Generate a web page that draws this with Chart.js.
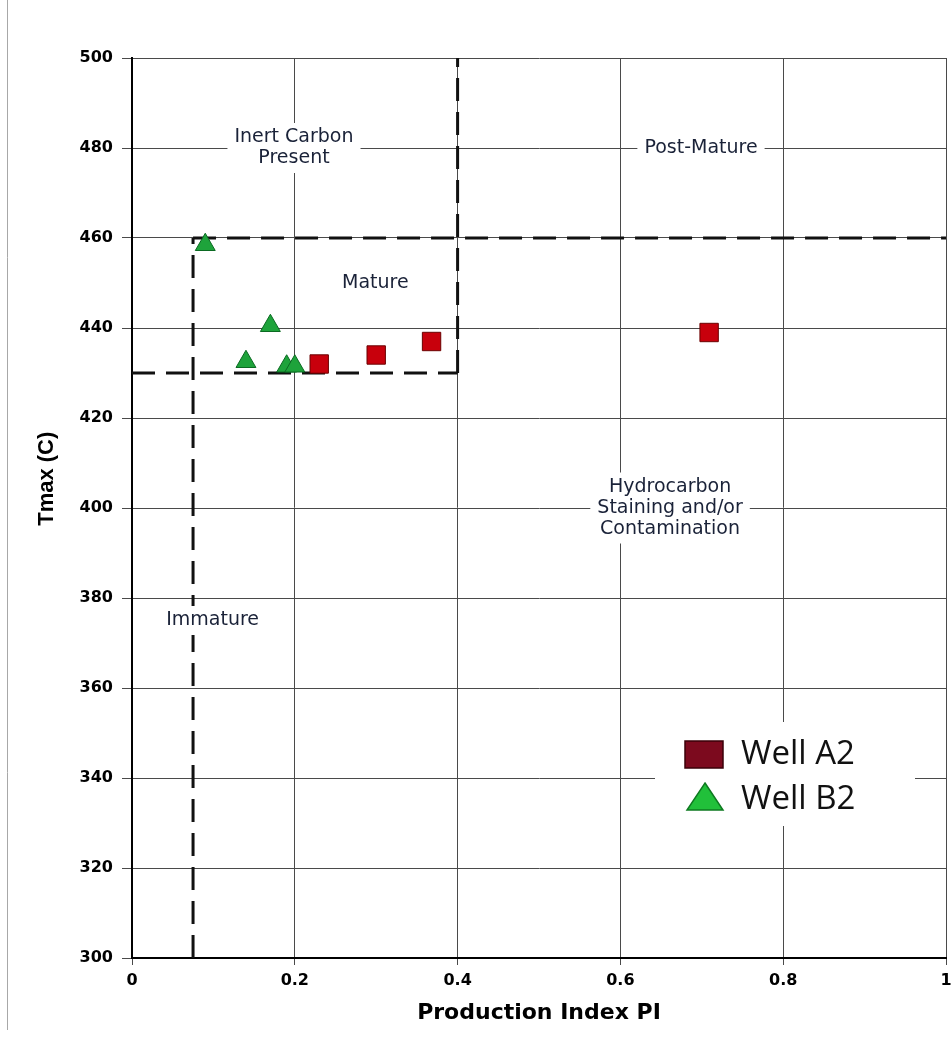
<!DOCTYPE html>
<html>
<head>
<meta charset="utf-8">
<script src="https://cdn.jsdelivr.net/npm/chart.js@4.4.1/dist/chart.umd.min.js"></script>
<style>
html,body{margin:0;padding:0;background:#fff;}
#wrap{width:952px;height:1060px;position:relative;}
canvas{display:block;}
</style>
</head>
<body>
<div id="wrap"><canvas id="c" width="952" height="1060"></canvas></div>
<script>
// ---- tick labels ----
const xTickLabels = ['0', '0.2', '0.4', '0.6', '0.8', '1'];
const yTickLabels = ['300', '320', '340', '360', '380', '400', '420', '440', '460', '480', '500'];

// ---- axis titles ----
const xAxisTitle = 'Production Index PI';
const yAxisTitle = 'Tmax (C)';

// ---- series ----
const seriesNames = ['Well A2', 'Well B2'];
const wellA2PI   = [0.23, 0.30, 0.368, 0.709];
const wellA2Tmax = [432, 434, 437, 439];
const wellB2PI   = [0.09, 0.17, 0.14, 0.19, 0.20];
const wellB2Tmax = [458.5, 440.5, 432.5, 431.5, 431.5];

// ---- zone boundaries (dashed) ----
const immatureLinePI   = [0.075, 0.075];
const immatureLineTmax = [300, 460];
const line460PI   = [0.075, 1];
const line460Tmax = [460, 460];
const line430PI   = [0, 0.4];
const line430Tmax = [430, 430];
const line04PI    = [0.4, 0.4];
const line04Tmax  = [430, 500];

// ---- zone labels ----
const zoneLabels   = ['Inert Carbon\nPresent', 'Post-Mature', 'Mature', 'Hydrocarbon\nStaining and/or\nContamination', 'Immature'];
const zoneLabelPI  = [0.199, 0.699, 0.299, 0.661, 0.099];
const zoneLabelTmax = [480, 480, 450, 400, 375];

const toPts = (xs, ys) => xs.map((x, i) => ({x: x, y: ys[i]}));

const dashStyle = {
  showLine: true, pointRadius: 0, pointHoverRadius: 0, borderColor: '#111',
  borderWidth: 3, borderDash: [23, 11], fill: false, tension: 0, order: 2
};

const A2Style = {fill: '#c8000c', border: '#6a0000'};
const B2Style = {fill: '#1ea33b', border: '#0b6a22'};

const bgPlugin = {
  id: 'bg',
  beforeDraw(chart) {
    const ctx = chart.ctx;
    ctx.save();
    ctx.fillStyle = '#fff';
    ctx.fillRect(0, 0, chart.width, chart.height);
    ctx.strokeStyle = '#a8a8a8';
    ctx.lineWidth = 1;
    ctx.beginPath();
    ctx.moveTo(7.5, 0);
    ctx.lineTo(7.5, 1030);
    ctx.stroke();
    ctx.restore();
  },
  afterDraw(chart) {
    // y axis title, placed as in the reference (slightly above the axis middle)
    const ctx = chart.ctx;
    const ys = chart.scales.y;
    ctx.save();
    ctx.translate(47, ys.getPixelForValue(406.5));
    ctx.rotate(-Math.PI / 2);
    ctx.font = 'bold 22px "Liberation Sans Narrow", "Liberation Sans", Arial, sans-serif';
    ctx.fillStyle = '#000';
    ctx.textAlign = 'center';
    ctx.textBaseline = 'middle';
    ctx.fillText(yAxisTitle, 0, 0);
    ctx.restore();
  }
};

const zonePlugin = {
  id: 'zones',
  afterDatasetsDraw(chart) {
    const ctx = chart.ctx;
    const xs = chart.scales.x, ys = chart.scales.y;
    ctx.save();
    ctx.font = '19px "DejaVu Sans", sans-serif';
    ctx.textAlign = 'center';
    ctx.textBaseline = 'middle';
    const lh = 21;
    zoneLabels.forEach((txt, i) => {
      const lines = txt.split('\n');
      const cx = xs.getPixelForValue(zoneLabelPI[i]);
      const cy = ys.getPixelForValue(zoneLabelTmax[i]);
      const w = Math.max(...lines.map(l => ctx.measureText(l).width));
      const h = lines.length * lh;
      ctx.fillStyle = '#fff';
      ctx.fillRect(cx - w / 2 - 7, cy - h / 2 - 4, w + 14, h + 8);
      ctx.fillStyle = '#1a2238';
      lines.forEach((l, k) => {
        ctx.fillText(l, cx, cy - h / 2 + lh / 2 + k * lh);
      });
    });
    ctx.restore();
  }
};

const legendPlugin = {
  id: 'customLegend',
  afterDatasetsDraw(chart) {
    const ctx = chart.ctx;
    ctx.save();
    ctx.fillStyle = '#fff';
    ctx.fillRect(655, 722, 260, 104);
    // Well A2 square
    ctx.fillStyle = '#7c0a1e';
    ctx.strokeStyle = '#3a0008';
    ctx.lineWidth = 1.5;
    ctx.fillRect(685, 741, 38, 27);
    ctx.strokeRect(685, 741, 38, 27);
    // Well B2 triangle
    ctx.fillStyle = '#21c03a';
    ctx.strokeStyle = '#0e7a20';
    ctx.beginPath();
    ctx.moveTo(705, 783);
    ctx.lineTo(723, 810);
    ctx.lineTo(687, 810);
    ctx.closePath();
    ctx.fill();
    ctx.stroke();
    ctx.fillStyle = '#111';
    ctx.font = '33px "Open Sans", sans-serif';
    ctx.textAlign = 'left';
    ctx.textBaseline = 'middle';
    ctx.fillText(seriesNames[0], 741, 755);
    ctx.fillText(seriesNames[1], 741, 800);
    ctx.restore();
  }
};

new Chart(document.getElementById('c'), {
  type: 'scatter',
  data: {
    datasets: [
      Object.assign({label: 'immature', data: toPts(immatureLinePI, immatureLineTmax)}, dashStyle),
      Object.assign({label: 'l460', data: toPts(line460PI, line460Tmax)}, dashStyle),
      Object.assign({label: 'l430', data: toPts(line430PI, line430Tmax)}, dashStyle),
      Object.assign({label: 'l04', data: toPts(line04PI, line04Tmax)}, dashStyle),
      {
        label: seriesNames[0],
        data: toPts(wellA2PI, wellA2Tmax),
        pointStyle: 'rect', pointRadius: 13, pointHoverRadius: 13,
        backgroundColor: A2Style.fill, borderColor: A2Style.border, borderWidth: 1, order: 1
      },
      {
        label: seriesNames[1],
        data: toPts(wellB2PI, wellB2Tmax),
        pointStyle: 'triangle', pointRadius: 11.5, pointHoverRadius: 11.5,
        backgroundColor: B2Style.fill, borderColor: B2Style.border, borderWidth: 1, order: 0
      }
    ]
  },
  options: {
    responsive: false,
    animation: false,
    devicePixelRatio: 1,
    layout: {autoPadding: false, padding: {left: 0, right: 6, top: 58, bottom: 0}},
    plugins: {legend: {display: false}, tooltip: {enabled: false}},
    scales: {
      x: {
        type: 'linear', min: 0, max: 1,
        afterFit(scale) { scale.height = 102; scale.paddingRight = 0; scale.paddingLeft = 0; },
        afterBuildTicks(scale) { scale.ticks = xTickLabels.map(v => ({value: parseFloat(v)})); },
        ticks: {
          callback: (v, i) => xTickLabels[i],
          font: {family: '"DejaVu Sans", sans-serif', size: 16, weight: 'bold'},
          color: '#000', padding: 6, maxRotation: 0
        },
        grid: {color: '#4a4a4a', lineWidth: 1, tickLength: 7, drawTicks: true},
        border: {display: true, color: '#000', width: 2},
        title: {
          display: true, text: xAxisTitle, color: '#000',
          font: {family: '"DejaVu Sans", sans-serif', size: 22, weight: 'bold'},
          padding: {top: 0, bottom: 34}
        }
      },
      y: {
        type: 'linear', min: 300, max: 500,
        afterFit(scale) { scale.width = 132; scale.paddingTop = 0; scale.paddingBottom = 0; },
        afterBuildTicks(scale) { scale.ticks = yTickLabels.map(v => ({value: parseFloat(v)})); },
        ticks: {
          callback: (v, i) => yTickLabels[i],
          font: {family: '"DejaVu Sans", sans-serif', size: 16, weight: 'bold'},
          color: '#000', padding: 9
        },
        grid: {color: '#4a4a4a', lineWidth: 1, tickLength: 10, drawTicks: true},
        border: {display: true, color: '#000', width: 2},
        title: {display: false, text: yAxisTitle}
      }
    }
  },
  plugins: [bgPlugin, zonePlugin, legendPlugin]
});
</script>
</body>
</html>
